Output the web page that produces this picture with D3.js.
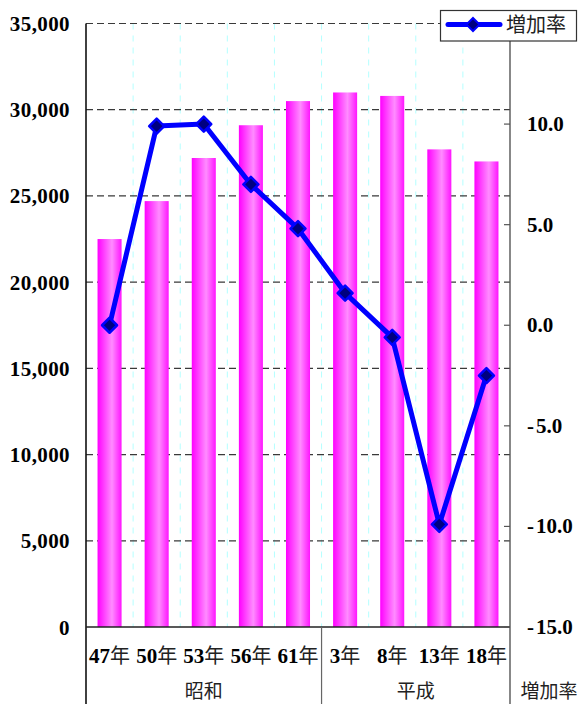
<!DOCTYPE html>
<html>
<head>
<meta charset="utf-8">
<script src="https://cdn.jsdelivr.net/npm/d3@7"></script>
<style>
  html, body { margin: 0; padding: 0; background: #fff; }
  svg { display: block; }
</style>
</head>
<body>
<svg id="chart" width="584" height="704"></svg>
<script>
// 年次別の値（棒）と増加率（折れ線）
const categories = ["47年", "50年", "53年", "56年", "61年", "3年", "8年", "13年", "18年"];
const eras = [
  { name: "昭和", from: 0, to: 5 },
  { name: "平成", from: 5, to: 9 }
];
const barValues = [22500, 24700, 27200, 29100, 30500, 31000, 30800, 27700, 27000];
const rateValues = [0.0, 9.9, 10.0, 7.0, 4.8, 1.6, -0.6, -9.9, -2.5];
const leftTicks = [0, 5000, 10000, 15000, 20000, 25000, 30000, 35000];
const rightTicks = [-15, -10, -5, 0, 5, 10, 15];
const rightLabels = [-15, -10, -5, 0, 5, 10];
const seriesName = "増加率";

const svg = d3.select("#chart");
const plot = { left: 86, right: 510, top: 23.5, bottom: 627 };
const serif = "'Liberation Serif', 'Times New Roman', serif";
const cjk = "'Noto Sans CJK JP', sans-serif";

const x = d3.scaleBand()
  .domain(categories)
  .range([plot.left, plot.right])
  .paddingInner(0.49)
  .paddingOuter(0.245);
const step = x.step();
const gap = (step - x.bandwidth()) / 2;
const yL = d3.scaleLinear().domain([0, 35000]).range([plot.bottom, plot.top]);
const yR = d3.scaleLinear().domain([-15, 15]).range([plot.bottom, plot.top]);

// bar gradient
const defs = svg.append("defs");
const grad = defs.append("linearGradient").attr("id", "barGrad")
  .attr("x1", "0%").attr("x2", "100%").attr("y1", "0%").attr("y2", "0%");
grad.append("stop").attr("offset", "0%").attr("stop-color", "#ff00ff");
grad.append("stop").attr("offset", "60%").attr("stop-color", "#ff8cff");
grad.append("stop").attr("offset", "100%").attr("stop-color", "#ff14ff");

// vertical category separators (light cyan dashes)
svg.append("g").selectAll("line")
  .data(categories.slice(1))
  .join("line")
  .attr("x1", d => x(d) - gap)
  .attr("x2", d => x(d) - gap)
  .attr("y1", plot.top).attr("y2", plot.bottom)
  .attr("stroke", "#b4ffff").attr("stroke-width", 1)
  .attr("stroke-dasharray", "6,6");

// horizontal gridlines
svg.append("g").selectAll("line")
  .data(leftTicks.filter(d => d > 0))
  .join("line")
  .attr("x1", plot.left).attr("x2", plot.right)
  .attr("y1", d => yL(d)).attr("y2", d => yL(d))
  .attr("stroke", "#3a3a3a").attr("stroke-width", 1.2)
  .attr("stroke-dasharray", "7,4");

// bars
svg.append("g").selectAll("rect")
  .data(barValues)
  .join("rect")
  .attr("x", (d, i) => x(categories[i]))
  .attr("y", d => yL(d))
  .attr("width", x.bandwidth())
  .attr("height", d => yL(0) - yL(d))
  .attr("fill", "url(#barGrad)");

// axes lines
svg.append("line").attr("x1", plot.left).attr("x2", plot.left)
  .attr("y1", plot.top).attr("y2", 704).attr("stroke", "#111").attr("stroke-width", 1.6);
svg.append("line").attr("x1", plot.left).attr("x2", plot.right)
  .attr("y1", plot.bottom).attr("y2", plot.bottom).attr("stroke", "#222").attr("stroke-width", 1.6);
svg.append("line").attr("x1", plot.right).attr("x2", plot.right)
  .attr("y1", plot.top).attr("y2", 704).attr("stroke", "#555").attr("stroke-width", 1.4);

// era separators below the axis
eras.slice(1).forEach(e => {
  const xs = x(categories[e.from]) - gap;
  svg.append("line").attr("x1", xs).attr("x2", xs)
    .attr("y1", plot.bottom).attr("y2", 704).attr("stroke", "#666").attr("stroke-width", 1.2);
});

// left axis labels
svg.append("g").selectAll("text")
  .data(leftTicks)
  .join("text")
  .attr("x", 70).attr("y", d => yL(d) + 7.5)
  .attr("text-anchor", "end")
  .attr("font-family", serif).attr("font-weight", "bold").attr("font-size", 21)
  .attr("letter-spacing", 0.4)
  .text(d => d3.format(",")(d));

// right axis ticks and labels
svg.append("g").selectAll("line")
  .data(rightTicks)
  .join("line")
  .attr("x1", plot.right - 6).attr("x2", plot.right)
  .attr("y1", d => yR(d)).attr("y2", d => yR(d))
  .attr("stroke", "#555").attr("stroke-width", 1.2);
const rl = svg.append("g").selectAll("text")
  .data(rightLabels)
  .join("text")
  .attr("x", 527).attr("y", d => yR(d) + 7)
  .attr("font-family", serif).attr("font-weight", "bold").attr("font-size", 21);
rl.filter(d => d < 0).append("tspan").text("-");
rl.append("tspan")
  .attr("dx", d => d < 0 ? 2 : 0)
  .text(d => d3.format(".1f")(Math.abs(d)));

// category labels: bold digits + 年
const cat = svg.append("g").selectAll("text")
  .data(categories)
  .join("text")
  .attr("x", d => x(d) + x.bandwidth() / 2)
  .attr("y", 662.5)
  .attr("text-anchor", "middle")
  .attr("font-size", 20);
cat.append("tspan")
  .attr("font-family", serif).attr("font-weight", "bold").attr("font-size", 21)
  .text(d => d.replace("年", ""));
cat.append("tspan")
  .attr("font-family", cjk).attr("fill", "#222")
  .text("年");

// era labels
svg.append("g").selectAll("text")
  .data(eras)
  .join("text")
  .attr("x", e => {
    const a = x(categories[e.from]) - gap;
    const b = x(categories[e.to - 1]) + x.bandwidth() + gap;
    return (a + b) / 2;
  })
  .attr("y", 698)
  .attr("text-anchor", "middle")
  .attr("font-family", cjk).attr("font-size", 19).attr("fill", "#222")
  .text(e => e.name);
svg.append("text")
  .attr("x", 549).attr("y", 698)
  .attr("text-anchor", "middle")
  .attr("font-family", cjk).attr("font-size", 19).attr("fill", "#222")
  .text(seriesName);

// rate line
const cx = i => x(categories[i]) + x.bandwidth() / 2;
const line = d3.line().x((d, i) => cx(i)).y(d => yR(d));
svg.append("path")
  .datum(rateValues)
  .attr("d", line)
  .attr("fill", "none")
  .attr("stroke", "#0000ff").attr("stroke-width", 5)
  .attr("stroke-linejoin", "round");

const diamond = "M0,-7.5L7.5,0L0,7.5L-7.5,0Z";
svg.append("g").selectAll("path")
  .data(rateValues)
  .join("path")
  .attr("transform", (d, i) => `translate(${cx(i)},${yR(d)})`)
  .attr("d", diamond)
  .attr("fill", "#000080")
  .attr("stroke", "#0000ff").attr("stroke-width", 2.5)
  .attr("stroke-linejoin", "round");

// legend
const lg = svg.append("g");
lg.append("rect").attr("x", 440.5).attr("y", 10.5).attr("width", 136).attr("height", 30.5)
  .attr("fill", "#fff").attr("stroke", "#333").attr("stroke-width", 1.2);
lg.append("line").attr("x1", 448).attr("x2", 500).attr("y1", 24.5).attr("y2", 24.5)
  .attr("stroke", "#0000ff").attr("stroke-width", 5).attr("stroke-linecap", "round");
lg.append("path").attr("transform", "translate(473,24.5)").attr("d", "M0,-6.5L6.5,0L0,6.5L-6.5,0Z")
  .attr("fill", "#000080").attr("stroke", "#0000ff").attr("stroke-width", 2);
lg.append("text").attr("x", 506).attr("y", 32)
  .attr("font-family", cjk).attr("font-size", 20).attr("fill", "#222")
  .text(seriesName);
</script>
</body>
</html>
